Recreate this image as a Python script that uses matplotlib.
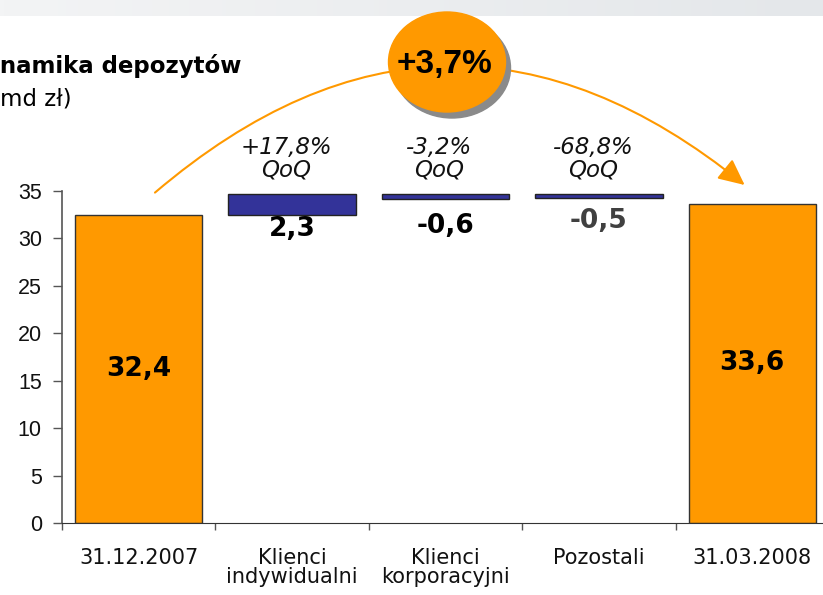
import numpy as np
import matplotlib
matplotlib.use("Agg")
import matplotlib.pyplot as plt
from matplotlib.patches import Ellipse
from matplotlib.colors import LinearSegmentedColormap

# data (mld zł)
categories = ["31.12.2007", "Klienci\nindywidualni", "Klienci\nkorporacyjni", "Pozostali", "31.03.2008"]
totals = [32.4, 33.6]
changes = [2.3, -0.6, -0.5]
change_low = [32.4, 34.1, 34.2]
change_high = [34.7, 34.7, 34.7]
qoq = ["+17,8%", "-3,2%", "-68,8%"]
growth = "+3,7%"

ORANGE = "#FF9900"
BLUE = "#333399"
W, H = 823, 595


def pl(v):
    # polish decimal comma
    return f"{v:.1f}".replace(".", ",")


fig = plt.figure(figsize=(W / 100, H / 100), dpi=100)

# light grey band at the top of the slide
band = fig.add_axes([0, 1 - 16 / H, 1, 16 / H], zorder=-1)
band.imshow(np.linspace(0, 1, 200).reshape(1, -1), aspect="auto",
            cmap=LinearSegmentedColormap.from_list("band", ["#f3f4f5", "#e4e7ea"]))
band.axis("off")

ax = fig.add_axes([62 / W, 72 / H, 767 / W, (404.3 - 72) / H])

# start and end totals
ax.bar([0, 4], totals, width=0.83, color=ORANGE, edgecolor="#333333", linewidth=1)
# the changes, floating
heights = np.array(change_high) - np.array(change_low)
ax.bar([1, 2, 3], heights, bottom=change_low, width=0.83, color=BLUE,
       edgecolor="#222222", linewidth=1)

for x, v in zip([0, 4], totals):
    ax.text(x, v / 2, pl(v), ha="center", va="center", fontsize=19, fontweight="bold")

offsets = [-14, -27, -23]
colors = ["black", "black", "#404040"]
for i, (v, low) in enumerate(zip(changes, change_low)):
    ax.annotate(pl(v), xy=(i + 1, low), xytext=(0, offsets[i]), textcoords="offset pixels",
                ha="center", va="center", fontsize=19, fontweight="bold", color=colors[i],
                annotation_clip=False)

for i, (q, top) in enumerate(zip(qoq, change_high)):
    ax.annotate(q + "\nQoQ", xy=(i + 1, top), xytext=(-6, 12), textcoords="offset pixels",
                ha="center", va="bottom", fontsize=16.5, style="italic", linespacing=0.95,
                color="#111111", annotation_clip=False)

# arc from first to last bar
ax.annotate("", xy=(3.95, 35.6), xytext=(0.106, 34.8),
            arrowprops=dict(arrowstyle="-|>,head_length=0.8,head_width=0.38",
                            connectionstyle="arc3,rad=-0.415", color=ORANGE, lw=1.5,
                            mutation_scale=20, shrinkA=0, shrinkB=0),
            annotation_clip=False)

ax.set_xlim(-0.5, 4.5)
ax.set_ylim(0, 35)
ax.spines["top"].set_visible(False)
ax.spines["right"].set_visible(False)
ax.spines["left"].set_color("#555555")
ax.spines["left"].set_linewidth(1.2)
ax.spines["bottom"].set_color("#333333")
ax.set_yticks(range(0, 36, 5))
ax.tick_params(axis="y", length=6.5, width=1, color="#555555", pad=8, labelsize=15.5,
               labelcolor="#111111")
for lab in ax.get_yticklabels():
    lab.set_family("Liberation Sans")
ax.set_xticks(range(5))
ax.set_xticklabels(categories, linespacing=0.95)
ax.tick_params(axis="x", which="major", length=0, pad=18, labelsize=15, labelcolor="#111111")
ax.set_xticks(np.arange(-0.5, 4.6, 1), minor=True)
ax.tick_params(axis="x", which="minor", length=5, width=1, color="#555555")

# the growth bubble
cx, cy = 447 / W, 1 - 62 / H
fig.add_artist(Ellipse((cx + 5 / W, cy - 6 / H), 117 / W, 100 / H,
                       transform=fig.transFigure, color="#8a8a8a", zorder=5))
fig.add_artist(Ellipse((cx, cy), 117 / W, 100 / H,
                       transform=fig.transFigure, color=ORANGE, zorder=6))
fig.text(cx - 2 / W, 1 - 65 / H, growth, ha="center", va="center", fontsize=24,
         fontweight="bold", family="Liberation Sans", zorder=7)

# title, cut at the left edge like on the slide
fig.text(-34 / W, 1 - 73 / H, "Dynamika depozytów", ha="left", va="baseline",
         fontsize=16.5, fontweight="bold")
fig.text(0, 1 - 105 / H, "md zł)", ha="left", va="baseline", fontsize=16.5)

fig.savefig("out.png", dpi=100)
